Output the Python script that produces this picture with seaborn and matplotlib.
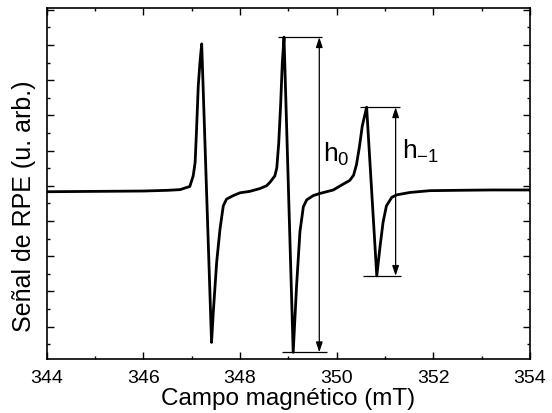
import pandas as pd
import matplotlib
matplotlib.use("Agg")
import matplotlib.pyplot as plt
import seaborn as sns
from matplotlib.ticker import MultipleLocator

# Espectro RPE (campo en mT, senal en u. arb.)
campo = [344.0, 345.0, 346.0, 346.5, 346.76, 346.96, 347.03, 347.07, 347.10, 347.135,
         347.17, 347.206, 347.41, 347.446, 347.516, 347.585, 347.653, 347.72, 347.86, 348.0,
         348.2, 348.41, 348.55, 348.62, 348.72, 348.76, 348.80, 348.84, 348.875, 348.91,
         349.10, 349.17, 349.24, 349.31, 349.38, 349.515, 349.65, 349.93, 350.14, 350.27,
         350.35, 350.41, 350.47, 350.53, 350.62, 350.83, 350.90, 350.96, 351.03, 351.14,
         351.24, 351.52, 351.93, 352.5, 353.2, 354.0]
senal = [-0.17, -0.16, -0.15, -0.13, -0.11, -0.02, 0.28, 0.66, 1.61, 2.84,
         3.5, 4.03, -4.45, -3.59, -2.17, -1.23, -0.57, -0.38, -0.28, -0.2,
         -0.16, -0.08, 0.0, 0.1, 0.28, 0.5, 1.2, 2.3, 3.5, 4.22,
         -4.73, -2.84, -1.3, -0.6, -0.4, -0.28, -0.22, -0.12, 0.05, 0.15,
         0.3, 0.6, 1.1, 1.7, 2.23, -2.56, -1.70, -1.04, -0.57, -0.33,
         -0.26, -0.19, -0.14, -0.13, -0.12, -0.12]

ticks_x = [344, 346, 348, 350, 352, 354]
etiquetas_x = ["344", "346", "348", "350", "352", "354"]

df = pd.DataFrame({"campo": campo, "senal": senal})

sns.set_style("ticks")
plt.rcParams["font.family"] = ["Liberation Sans", "DejaVu Sans"]
plt.rcParams["mathtext.fontset"] = "custom"
plt.rcParams["mathtext.rm"] = "Liberation Sans"
for k in ["text.color", "axes.labelcolor", "xtick.color", "ytick.color", "axes.edgecolor"]:
    plt.rcParams[k] = "black"

fig, ax = plt.subplots(figsize=(5.52, 4.14), dpi=100)
fig.subplots_adjust(left=0.0848, right=0.960, bottom=0.1297, top=0.9775)

sns.lineplot(data=df, x="campo", y="senal", sort=False, estimator=None,
             color="black", linewidth=2.0, ax=ax)

# alturas pico a pico de las lineas central y de campo alto
linea0 = df[(df.campo > 348.5) & (df.campo < 349.5)]
linea1 = df[(df.campo > 350.0) & (df.campo < 351.5)]
top0, bot0 = linea0.senal.max(), linea0.senal.min()
top1, bot1 = linea1.senal.max(), linea1.senal.min()

ax.hlines(top0, 348.79, 349.69, color="black", lw=0.9)
ax.hlines(bot0, 348.86, 349.79, color="black", lw=0.9)
ax.hlines(top1, 350.48, 351.31, color="black", lw=0.9)
ax.hlines(bot1, 350.55, 351.34, color="black", lw=0.9)

flecha = dict(arrowstyle="<|-|>,head_length=0.6,head_width=0.2", color="black",
              lw=0.9, shrinkA=0, shrinkB=0)
ax.annotate("", xy=(349.64, top0), xytext=(349.64, bot0), arrowprops=flecha)
ax.annotate("", xy=(351.22, top1), xytext=(351.22, bot1), arrowprops=flecha)

ax.text(349.72, 0.72, r"$\mathregular{h_0}$", fontsize=19, ha="left", va="baseline")
ax.text(351.36, 0.78, r"$\mathregular{h_{-1}}$", fontsize=19, ha="left", va="baseline")

ax.set_xlim(344, 354)
ax.set_ylim(-4.93, 5.04)
ax.set_xticks(ticks_x)
ax.set_xticklabels(etiquetas_x)
ax.xaxis.set_minor_locator(MultipleLocator(1))
ax.yaxis.set_major_locator(MultipleLocator(1))
ax.yaxis.set_minor_locator(MultipleLocator(0.5))
ax.set_yticklabels([])
ax.tick_params(which="both", direction="in", top=True, right=True, width=1.0, colors="black")
ax.tick_params(which="major", length=5, labelsize=14, pad=7)
ax.tick_params(which="minor", length=2.5)
for s in ax.spines.values():
    s.set_linewidth(1.2)
    s.set_color("black")

ax.set_xlabel("Campo magnético (mT)", fontsize=17.5)
ax.set_ylabel("Señal de RPE (u. arb.)", fontsize=18)
ax.xaxis.set_label_coords(0.5, -0.08)
ax.yaxis.set_label_coords(-0.022, 0.4376)

plt.savefig("out.png", dpi=100)
plt.close()
